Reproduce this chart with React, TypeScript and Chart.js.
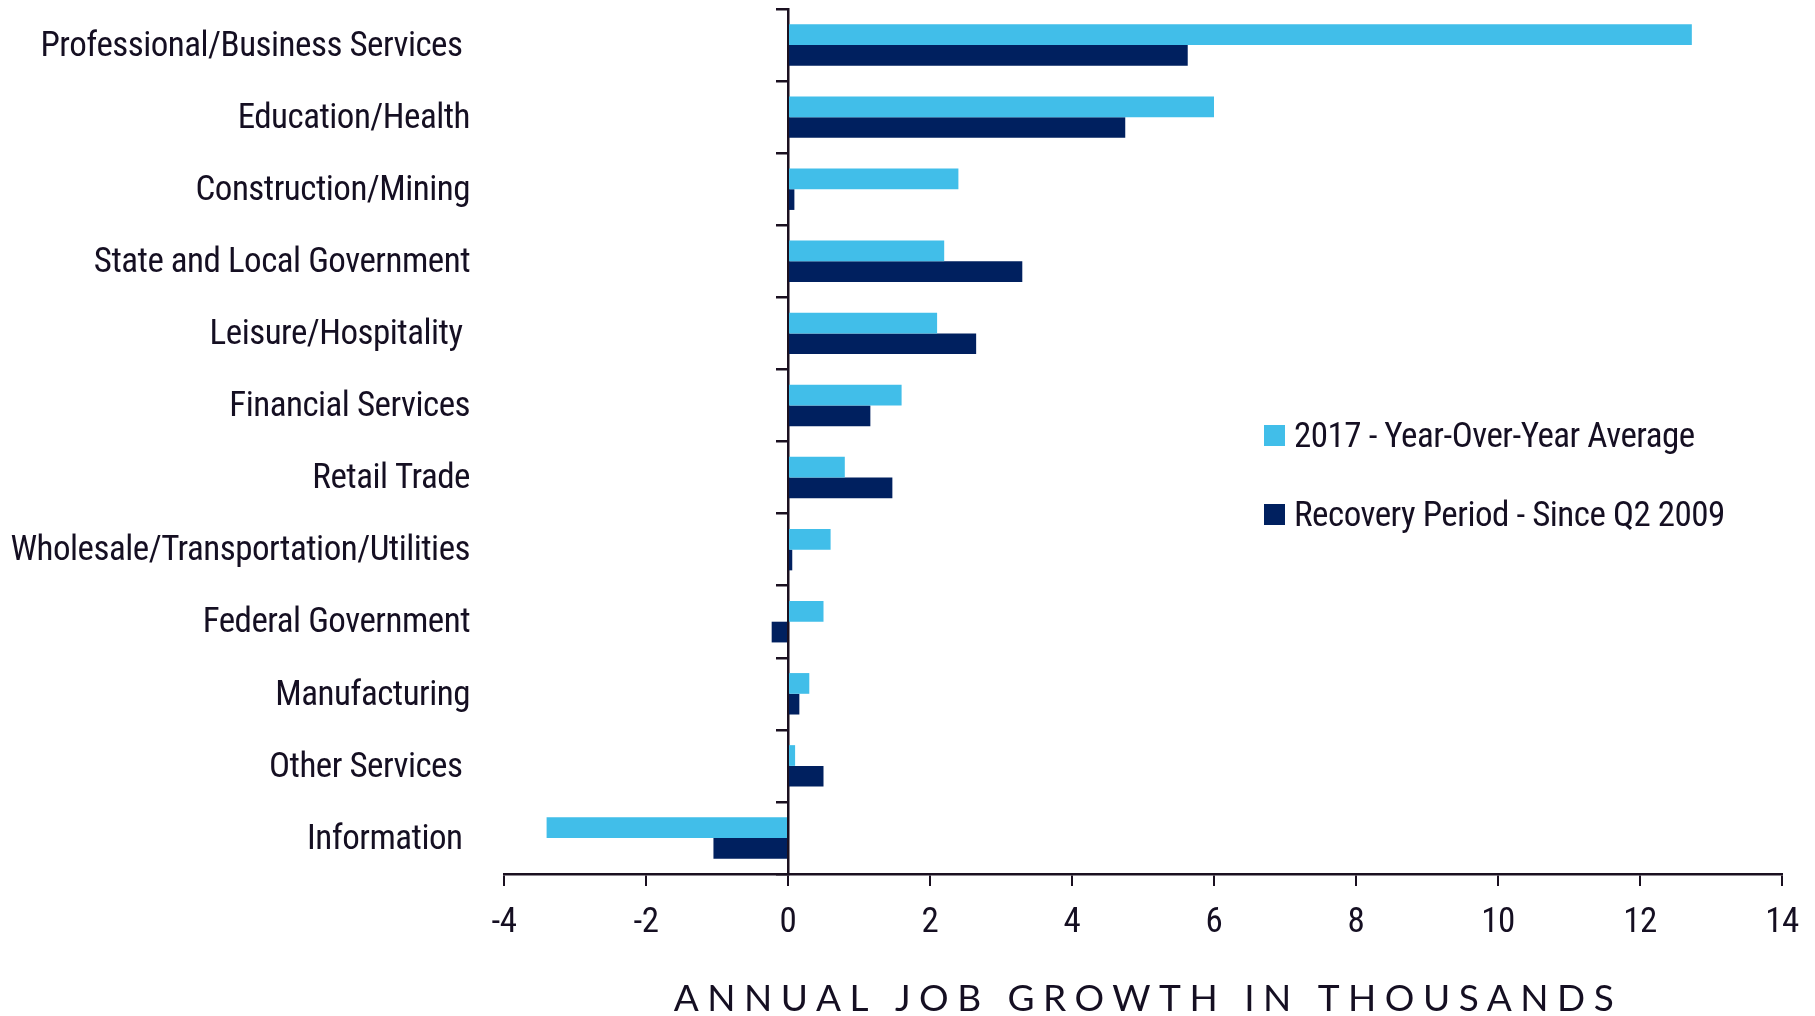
import React, { useEffect, useRef } from "react";
import { Chart, registerables } from "chart.js";

Chart.register(...registerables);

// ---- data ----
const categories = [
  "Professional/Business Services ",
  "Education/Health",
  "Construction/Mining",
  "State and Local Government",
  "Leisure/Hospitality ",
  "Financial Services",
  "Retail Trade",
  "Wholesale/Transportation/Utilities",
  "Federal Government",
  "Manufacturing",
  "Other Services ",
  "Information ",
];
const yoy2017 = [12.73, 6.0, 2.4, 2.2, 2.1, 1.6, 0.8, 0.6, 0.5, 0.3, 0.1, -3.4];
const recoverySince2009 = [5.63, 4.75, 0.09, 3.3, 2.65, 1.16, 1.47, 0.06, -0.23, 0.16, 0.5, -1.05];
const seriesNames = ["2017 - Year-Over-Year Average", "Recovery Period - Since Q2 2009"];
const xMin = -4;
const xMax = 14;
const xStep = 2;
const xAxisTitle = "ANNUAL JOB GROWTH IN THOUSANDS";

// ---- style ----
const W = 1815;
const H = 1016;
const LIGHT = "#41bee9";
const DARK = "#00205f";
const INK = "#150f22";
const AXIS = "#1a1020";
const NARROW = "'Roboto Condensed', 'DejaVu Sans Condensed', sans-serif";
const FONT_SIZE = 35;
const TIGHT = "-0.5px";

const overlayPlugin = {
  id: "overlay",
  beforeLayout(chart: any) {
    (chart.ctx as any).letterSpacing = TIGHT;
  },
  beforeDraw(chart: any) {
    (chart.ctx as any).letterSpacing = TIGHT;
  },
  afterDraw(chart: any) {
    const ctx = chart.ctx as CanvasRenderingContext2D;
    const area = chart.chartArea;
    ctx.save();
    // legend
    const lx = 1264;
    const ly0 = 435.5;
    const gap = 79;
    (ctx as any).letterSpacing = TIGHT;
    chart.data.datasets.forEach((ds: any, i: number) => {
      const y = ly0 + i * gap;
      ctx.fillStyle = ds.backgroundColor;
      ctx.fillRect(lx, y - 10.5, 21, 21);
      ctx.fillStyle = INK;
      ctx.font = `${FONT_SIZE}px ${NARROW}`;
      ctx.textBaseline = "middle";
      ctx.textAlign = "left";
      ctx.fillText(ds.label, lx + 30, y + 3);
    });
    // x-axis title, letter-spaced
    ctx.font = `37px Lato, 'Open Sans', sans-serif`;
    (ctx as any).letterSpacing = "8.5px";
    ctx.fillStyle = INK;
    ctx.textAlign = "center";
    ctx.textBaseline = "middle";
    ctx.fillText(xAxisTitle, (area.left + area.right) / 2 + 5, 999);
    ctx.restore();
  },
};

export default function App() {
  const ref = useRef<HTMLCanvasElement | null>(null);
  useEffect(() => {
    if (!ref.current) return;
    const chart = new Chart(ref.current, {
      type: "bar",
      data: {
        labels: categories,
        datasets: [
          { label: seriesNames[0], data: yoy2017, backgroundColor: LIGHT, yAxisID: "y" },
          { label: seriesNames[1], data: recoverySince2009, backgroundColor: DARK, yAxisID: "y" },
        ],
      },
      options: {
        indexAxis: "y",
        responsive: false,
        animation: false,
        devicePixelRatio: 1,
        datasets: { bar: { categoryPercentage: 0.575, barPercentage: 1.0 } },
        layout: { padding: { top: 9, right: 33, left: 0, bottom: 0 } },
        plugins: { legend: { display: false }, tooltip: { enabled: false }, title: { display: false } },
        scales: {
          x: {
            type: "linear",
            position: "bottom",
            min: xMin,
            max: xMax,
            ticks: {
              stepSize: xStep,
              color: INK,
              font: { family: NARROW, size: FONT_SIZE },
              padding: 16,
            },
            grid: { drawOnChartArea: false, drawTicks: true, tickLength: 12, color: AXIS, lineWidth: 2 },
            border: { display: true, color: AXIS, width: 2.5 },
            afterFit: (s: any) => {
              s.height = H - 874;
              s.paddingLeft = 0;
              s.paddingRight = 0;
            },
          },
          y: {
            type: "category",
            position: "left",
            ticks: { color: INK, font: { family: NARROW, size: FONT_SIZE }, padding: 34, labelOffset: 2 },
            grid: { display: false, drawTicks: false },
            border: { display: false },
            afterFit: (s: any) => {
              s.width = 504;
              s.paddingTop = 0;
              s.paddingBottom = 0;
            },
          },
          y2: {
            type: "category",
            position: { x: 0 },
            offset: true,
            ticks: { display: false },
            grid: { drawOnChartArea: false, drawTicks: true, tickLength: 11, offset: true, color: AXIS, lineWidth: 2.5 },
            border: { display: true, color: AXIS, width: 2.5 },
            afterFit: (s: any) => {
              s.paddingTop = 0;
              s.paddingBottom = 0;
            },
          },
        },
      },
      plugins: [overlayPlugin],
    } as any);
    return () => chart.destroy();
  }, []);
  return (
    <div style={{ position: "fixed", left: 0, top: 0, width: W, height: H, background: "#fff" }}>
      <canvas ref={ref} width={W} height={H} style={{ display: "block", width: W, height: H }} />
    </div>
  );
}
